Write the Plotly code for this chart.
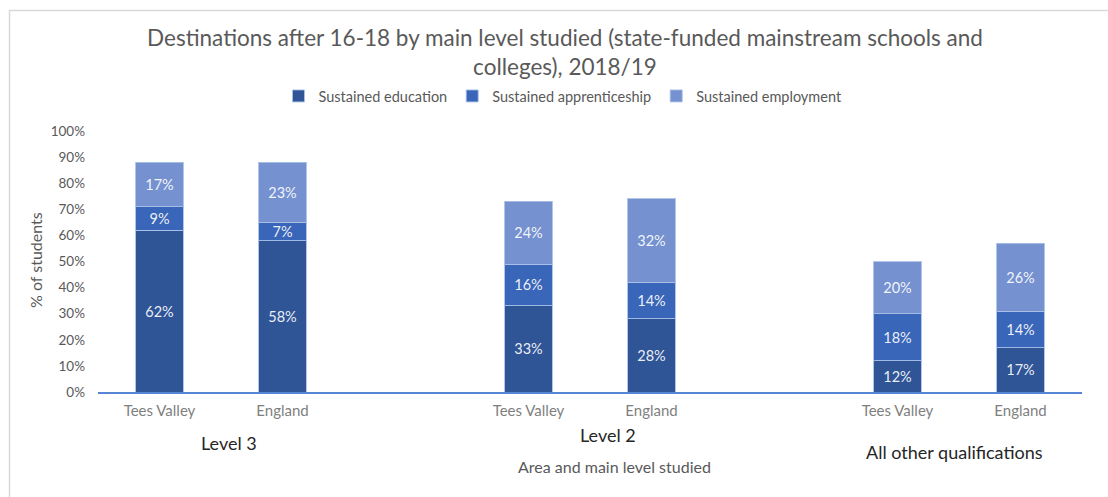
import plotly.graph_objects as go

# Destinations after 16-18, by main level studied and area (% of students)
groups = ["Level 3", "Level 2", "All other qualifications"]
areas = ["Tees Valley", "England"]
education = [62, 58, 33, 28, 12, 17]
apprenticeship = [9, 7, 16, 14, 18, 14]
employment = [17, 23, 24, 32, 20, 26]

series = [
    ("Sustained education", education, "#2f5597"),
    ("Sustained apprenticeship", apprenticeship, "#3a66b9"),
    ("Sustained employment", employment, "#7591d0"),
]

# each group takes three category slots (the third one left empty as a spacer)
SLOTS = 3
xpos, xlabels = [], []
for gi, g in enumerate(groups):
    for ai, a in enumerate(areas):
        xpos.append(gi * SLOTS + ai)
        xlabels.append(a)
n_slots = SLOTS * (len(groups) - 1) + len(areas)
boundaries = [gi * SLOTS - 0.5 for gi in range(len(groups))]

FONT = "Lato"
GREY = "#595959"

fig = go.Figure()
for name, vals, col in series:
    fig.add_trace(go.Bar(
        x=xpos, y=vals, name=name, width=0.39,
        marker=dict(color=col, line=dict(color="rgba(170,192,232,0.9)", width=1)),
        text=[f"{v}%" for v in vals], textposition="inside",
        insidetextanchor="middle", textangle=0, constraintext="none",
        textfont=dict(family=FONT, size=14.5, color="rgba(255,255,255,0.92)"),
    ))

W, H = 1108, 497
L, R, T, B = 98, 26, 131, 105
pw, ph = W - L - R, H - T - B


def px_x(px):
    return (px - L) / pw


def px_y(py):
    return (H - B - py) / ph


annotations = [
    dict(text="Level 3", x=px_x(229), y=px_y(443), font=dict(size=18, color="#262626")),
    dict(text="Level 2", x=px_x(608), y=px_y(435), font=dict(size=18, color="#262626")),
    dict(text="All other qualifications", x=px_x(954), y=px_y(452),
         font=dict(size=18, color="#262626")),
    dict(text="Area and main level studied", x=px_x(614), y=px_y(466),
         font=dict(size=16, color=GREY)),
    dict(text="% of students", x=px_x(35), y=px_y(260), textangle=-90,
         font=dict(size=16, color=GREY)),
]
for a in annotations:
    a.update(xref="paper", yref="paper", showarrow=False,
             xanchor="center", yanchor="middle")
    a["font"]["family"] = FONT

fig.update_layout(
    width=W, height=H, autosize=False, barmode="stack",
    margin=dict(l=L, r=R, t=T, b=B, autoexpand=False),
    paper_bgcolor="white", plot_bgcolor="white",
    font=dict(family=FONT, color=GREY),
    title=dict(
        text="Destinations after 16-18 by main level studied (state-funded mainstream schools and<br>colleges), 2018/19",
        x=565 / W, xref="container", xanchor="center",
        y=1 - 46 / H, yref="container", yanchor="top",
        font=dict(family=FONT, size=22.5, color=GREY),
    ),
    legend=dict(
        orientation="h", x=px_x(563), xref="paper", xanchor="center",
        y=px_y(96), yref="paper", yanchor="middle",
        font=dict(size=14.5, color=GREY), traceorder="normal", itemwidth=30,
    ),
    xaxis=dict(
        range=[-0.5, n_slots - 0.5], tickvals=xpos, ticktext=xlabels,
        showgrid=False, zeroline=False, ticks="", tickangle=0,
        showline=True, linecolor="#5585d4", linewidth=2,
        tickfont=dict(size=15, color="#7f7f7f"), ticklabelstandoff=4,
    ),
    xaxis2=dict(
        overlaying="x", anchor="y", side="bottom",
        range=[-0.5, n_slots - 0.5], tickvals=boundaries,
        ticks="outside", ticklen=5, tickwidth=2, tickcolor="#5585d4",
        showticklabels=False, showgrid=False, zeroline=False, showline=False,
    ),
    yaxis=dict(
        range=[0, 100], dtick=10, ticksuffix="%", showgrid=False,
        zeroline=False, showline=False, ticklabelstandoff=12,
        tickfont=dict(size=13.5, color=GREY),
    ),
    annotations=annotations,
    shapes=[
        dict(type="line", xref="paper", yref="paper",
             x0=px_x(9), x1=px_x(W), y0=px_y(10.5), y1=px_y(10.5),
             line=dict(color="#d9d9d9", width=1.5)),
        dict(type="line", xref="paper", yref="paper",
             x0=px_x(9.5), x1=px_x(9.5), y0=px_y(10), y1=px_y(H),
             line=dict(color="#d9d9d9", width=1.5)),
    ],
)

fig.write_html("out.html")
